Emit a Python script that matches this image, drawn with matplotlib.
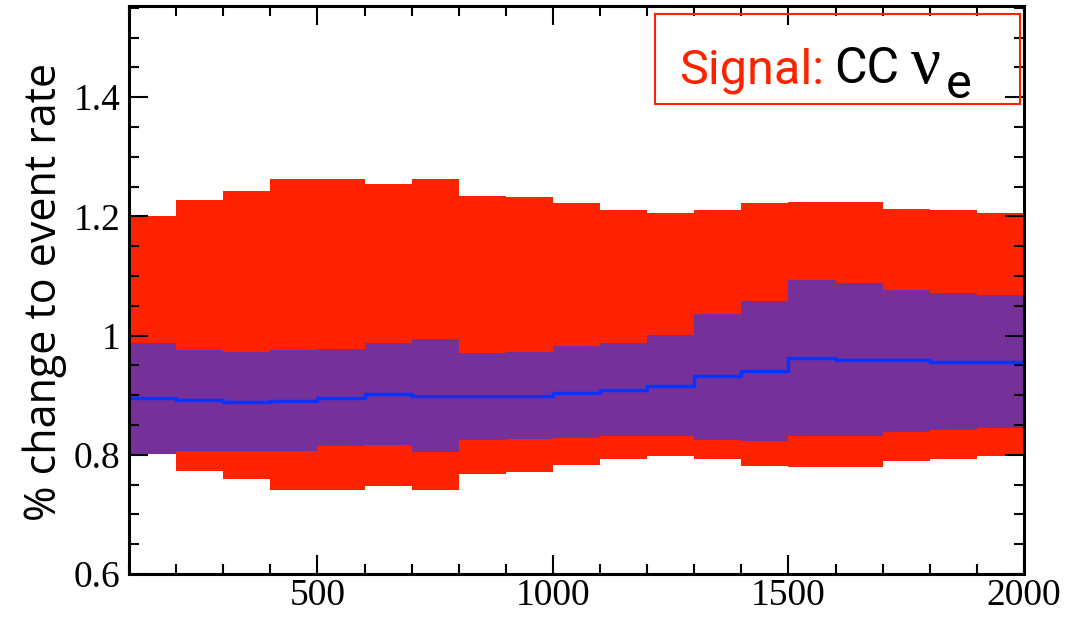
import numpy as np
import matplotlib
matplotlib.use("Agg")
import matplotlib.pyplot as plt
from matplotlib.ticker import MultipleLocator, FixedLocator, FixedFormatter
from matplotlib.patches import Rectangle

# bin edges (19 bins of 100)
edges = [100, 200, 300, 400, 500, 600, 700, 800, 900, 1000, 1100,
         1200, 1300, 1400, 1500, 1600, 1700, 1800, 1900, 2000]

# outer (red) band
red_hi = [1.201, 1.227, 1.243, 1.262, 1.262, 1.255, 1.262, 1.235, 1.232, 1.222,
          1.210, 1.205, 1.210, 1.222, 1.224, 1.224, 1.213, 1.210, 1.205]
red_lo = [0.801, 0.773, 0.760, 0.741, 0.741, 0.748, 0.741, 0.768, 0.771, 0.783,
          0.793, 0.798, 0.793, 0.781, 0.779, 0.779, 0.790, 0.793, 0.798]

# inner (purple) band
pur_hi = [0.987, 0.976, 0.973, 0.976, 0.978, 0.987, 0.995, 0.970, 0.973, 0.982,
          0.987, 1.001, 1.036, 1.058, 1.093, 1.088, 1.077, 1.071, 1.068]
pur_lo = [0.801, 0.807, 0.807, 0.807, 0.815, 0.817, 0.804, 0.825, 0.826, 0.829,
          0.832, 0.832, 0.825, 0.823, 0.832, 0.832, 0.839, 0.842, 0.845]

# central value
central = [0.895, 0.892, 0.888, 0.891, 0.896, 0.902, 0.899, 0.899, 0.899, 0.904,
           0.908, 0.916, 0.932, 0.941, 0.962, 0.959, 0.959, 0.956, 0.956]

red = "#ff2200"
purple = "#76309a"
blue = "#0a32ff"

def stepped(vals):
    return np.append(vals, vals[-1])

fig = plt.figure(figsize=(10.8, 6.21), dpi=100)
ax = fig.add_axes([129/1080, 1 - 574/621, (1024-129)/1080, (574-6)/621])

ax.fill_between(edges, stepped(red_lo), stepped(red_hi), step="post",
                color=red, linewidth=0)
ax.fill_between(edges, stepped(pur_lo), stepped(pur_hi), step="post",
                color=purple, linewidth=0)
ax.step(edges, stepped(central), where="post", color=blue, linewidth=2.5)

ax.set_xlim(100, 2000)
ax.set_ylim(0.6, 1.553)

ax.xaxis.set_major_locator(FixedLocator([500, 1000, 1500, 2000]))
ax.xaxis.set_minor_locator(MultipleLocator(100))
ax.yaxis.set_major_locator(FixedLocator([0.6, 0.8, 1.0, 1.2, 1.4]))
ax.yaxis.set_major_formatter(FixedFormatter(["0.6", "0.8", "1", "1.2", "1.4"]))
ax.yaxis.set_minor_locator(MultipleLocator(0.05))

ax.tick_params(which="both", direction="in", top=True, right=True, width=1.5,
               colors="black")
ax.tick_params(which="major", length=14)
ax.tick_params(which="minor", length=7)
ax.tick_params(axis="x", pad=3)
ax.tick_params(axis="y", pad=6)
for lab in ax.get_xticklabels() + ax.get_yticklabels():
    lab.set_fontfamily("Liberation Serif")
    lab.set_fontsize(27)
for sp in ax.spines.values():
    sp.set_linewidth(2.2)

fig.text(45/1080, 1 - 292/621, "% change to event rate", rotation=90,
         ha="center", va="center", fontsize=31, family=["Open Sans", "DejaVu Sans"])

# label box
fig.patches.append(Rectangle((655/1080, 1 - 104/621), 365/1080, 90/621,
                             transform=fig.transFigure, fill=False,
                             edgecolor=red, linewidth=1.5))
y0 = 1 - 83/621
sans = ["Roboto", "DejaVu Sans"]
t1 = fig.text(679/1080, y0, "Signal:", color=red, fontsize=35, va="baseline",
              family=sans)
fig.canvas.draw()
r = fig.canvas.get_renderer()
x = t1.get_window_extent(r).x1 + 10
t2 = fig.text(x/1080, y0, "CC", color="black", fontsize=36, va="baseline",
              family=sans)
x = t2.get_window_extent(r).x1 + 12
t3 = fig.text(x/1080, y0, "ν", color="black", fontsize=48, va="baseline",
              family=["Liberation Serif", "DejaVu Serif"])
x = t3.get_window_extent(r).x1 + 5
fig.text(x/1080, y0 - 15/621, "e", color="black", fontsize=35, va="baseline",
         family=sans)

fig.savefig("out.png", dpi=100)
